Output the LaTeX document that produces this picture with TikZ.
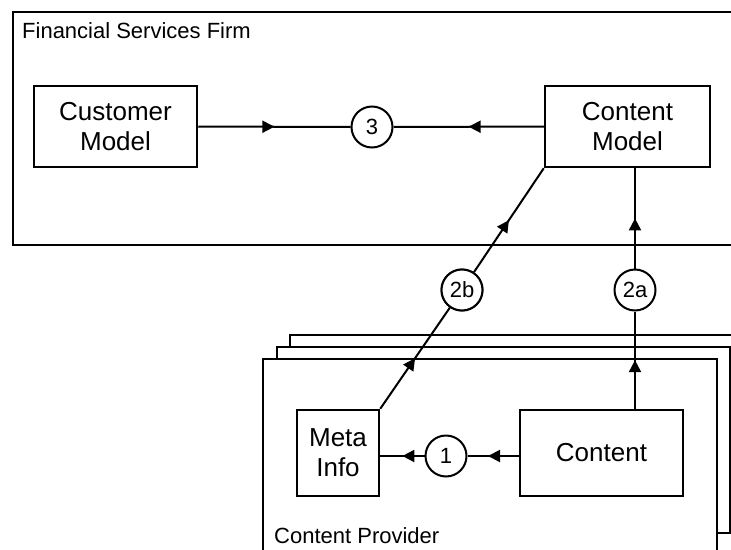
\documentclass[tikz,border=0pt]{standalone}
\usepackage{fontspec}
\setmainfont{Liberation Sans}
\usetikzlibrary{arrows.meta,decorations.markings}

\tikzset{
  box/.style={draw, line width=2.5pt, fill=white, inner sep=0pt, align=center,
              font=\fontsize{26}{30}\selectfont},
  step num/.style={draw, circle, line width=2pt, fill=white, minimum size=41pt,
              inner sep=0pt, font=\fontsize{22}{24}\selectfont},
  frame/.style={draw, line width=2.5pt, fill=white},
  caption/.style={anchor=base west, inner sep=0pt, font=\fontsize{22}{24}\selectfont},
  flow/.style={line width=2pt, postaction={decorate},
    decoration={markings, mark=at position #1 with {\arrow{Triangle[length=12pt,width=12pt]}}}},
  flow/.default=0.5
}

\begin{document}
\begin{tikzpicture}[x=1pt,y=-1pt]
  \useasboundingbox (0,0) rectangle (731,549);
  \clip (0,0) rectangle (731,549);

  % firm boundary
  \draw[frame] (13,12) rectangle (780,245);
  \node[caption] (firm) at (22,38) {Financial Services Firm};

  % stacked provider frames, back to front
  \draw[frame] (290,335) rectangle (790,620);
  \draw[frame] (277,347) rectangle (730,533);
  \draw[frame] (263,359) rectangle (717,620);
  \node[caption] (prov) at (274,543) {Content Provider};

  % models inside the firm
  \node[box, minimum width=163pt, minimum height=81pt] (cust) at (115.5,126.5) {Customer\\Model};
  \node[box, minimum width=165pt, minimum height=81pt] (cmod) at (627.5,126.5) {Content\\Model};
  \node[step num] (s3) at (372,127) {3};

  % provider contents
  \node[box, minimum width=82pt, minimum height=86pt] (meta) at (338,453) {Meta\\Info};
  \node[box, minimum width=163pt, minimum height=86pt] (cont) at (601.5,453) {Content};
  \node[step num] (s1) at (446,456) {1};
  \node[step num] (s2a) at (635,290) {2a};
  \node[step num] (s2b) at (462,290) {2b};

  % flows
  \draw[flow] (cust.east) -- (s3.west);
  \draw[flow] (cmod.west) -- (s3.east);
  \draw[flow=0.6] (cont.west |- s1) -- (s1.east);
  \draw[flow] (s1.west) -- (meta.east |- s1);
  \draw[flow] (cont.north -| s2a) -- (s2a.south);
  \draw[flow] (s2a.north) -- (cmod.south -| s2a);
  \draw[flow] (meta.north east) -- (s2b);
  \draw[flow] (s2b) -- (cmod.south west);
  % redraw the 2b circle over its line
  \node[step num] at (s2b) {2b};
\end{tikzpicture}
\end{document}
